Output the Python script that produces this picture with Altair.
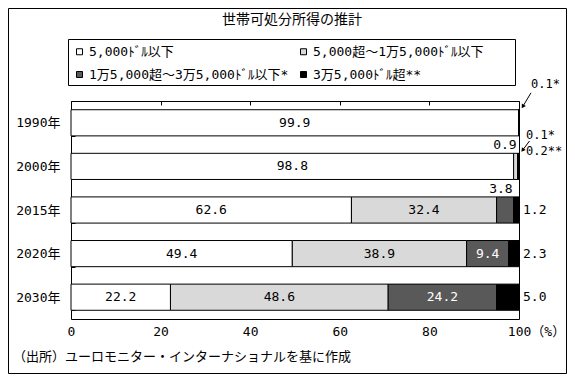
import altair as alt
import pandas as pd

# ---- data -------------------------------------------------------------
years = ["1990年", "2000年", "2015年", "2020年", "2030年"]
categories = [
    "5,000ﾄﾞﾙ以下",
    "5,000超～1万5,000ﾄﾞﾙ以下",
    "1万5,000超～3万5,000ﾄﾞﾙ以下*",
    "3万5,000ﾄﾞﾙ超**",
]
under_5k = [99.9, 98.8, 62.6, 49.4, 22.2]
from_5k_to_15k = [0.0, 0.9, 32.4, 38.9, 48.6]
from_15k_to_35k = [0.1, 0.1, 3.8, 9.4, 24.2]
over_35k = [0.0, 0.2, 1.2, 2.3, 5.0]
x_ticks = [0, 20, 40, 60, 80, 100]
title_text = "世帯可処分所得の推計"
source_text = "（出所）ユーロモニター・インターナショナルを基に作成"
colors = ["#ffffff", "#d9d9d9", "#595959", "#000000"]

series = [under_5k, from_5k_to_15k, from_15k_to_35k, over_35k]


def placement(ci, v):
    if v == 0:
        return "none"
    if ci == 3 and v >= 1:
        return "right"
    if v >= 9:
        return "inside"
    if v < 0.5:
        return "arrow"
    return "above"


rows = []
for yi, yr in enumerate(years):
    start = 0.0
    for ci, cat in enumerate(categories):
        v = series[ci][yi]
        rows.append(dict(
            year=yr, cat=cat, order=ci, value=v,
            start=round(start, 3), end=round(start + v, 3), mid=round(start + v / 2, 3),
            label=f"{v:.1f}",
            note=f"{v:.1f}" + "*" * (ci - 1) if ci >= 2 else f"{v:.1f}",
            place=placement(ci, v),
        ))
        start += v
df = pd.DataFrame(rows)
one = pd.DataFrame({"k": [0]})

# ---- styling ----------------------------------------------------------
FONT = "DejaVu Sans Mono, Noto Sans CJK JP"
CJK = "Noto Sans CJK JP"
W, H = 448, 218
PAD = {"left": 63, "top": 93, "right": 48, "bottom": 55}
FS = 13

base = alt.Chart(df)

y_axis = alt.Axis(orient="left", offset=-4, tickSize=4, tickBand="extent", domain=False,
                  labelPadding=11, labelFont=FONT, labelFontSize=FS, labelColor="black",
                  tickColor="black", grid=False, title=None)
bottom_axis = alt.Axis(orient="bottom", values=x_ticks, ticks=False, tickSize=0, domain=False,
                       grid=False, labelPadding=6, labelFont=FONT, labelFontSize=FS,
                       labelColor="black", labelFlush=False, title=None,
                       labelExpr="datum.value == 100 ? '100（%）' : datum.label",
                       labelOffset={"condition": {"test": "datum.value == 100", "value": 17}, "value": 0})
top_axis = alt.Axis(orient="top", offset=-4, tickSize=4, labels=False, domain=False, grid=False,
                    values=x_ticks, tickColor="black", title=None)

y_main = alt.Y("year:N", title=None,
               scale=alt.Scale(domain=years, paddingInner=0.4, paddingOuter=0.2), axis=y_axis)
y_plain = alt.Y("year:N", title=None)

bars = base.mark_bar(stroke="black", strokeWidth=1).encode(
    x=alt.X("start:Q", title=None, scale=alt.Scale(domain=[0, 100], nice=False), axis=bottom_axis),
    x2="end:Q",
    y=y_main,
    fill=alt.Fill("cat:N", scale=alt.Scale(domain=categories, range=colors),
                  legend=alt.Legend(title=None, orient="none", legendX=-3, legendY=-61, columns=2,
                                    direction="horizontal",
                                    symbolType="square", symbolSize=36, symbolStrokeColor="black",
                                    symbolStrokeWidth=1, labelFont=FONT, labelFontSize=FS,
                                    labelColor="black", labelLimit=400, labelOffset=3,
                                    rowPadding=9, columnPadding=8, padding=5,
                                    gridAlign="all")),
)

legend_box = alt.Chart(one).mark_rect(fill="transparent", stroke="black", strokeWidth=1).encode(
    x=alt.value(-2.5), x2=alt.value(444.5), y=alt.value(-61.5), y2=alt.value(-15.5))

inside = base.transform_filter(alt.datum.place == "inside").mark_text(
    font=FONT, fontSize=FS, baseline="middle"
).encode(
    x=alt.X("mid:Q", title=None, axis=top_axis),
    y=y_plain,
    text="label:N",
    color=alt.condition(alt.datum.order == 2, alt.value("white"), alt.value("black")),
)

right = base.transform_filter(alt.datum.place == "right").mark_text(
    font=FONT, fontSize=FS, baseline="middle", align="left", dx=4, color="black"
).encode(x=alt.X("end:Q", axis=None), y=y_plain, text="label:N")

above = base.transform_filter(alt.datum.place == "above").mark_text(
    font=FONT, fontSize=FS, baseline="middle", align="right", dx=-1, dy=-21, color="black"
).encode(x=alt.X("end:Q", axis=None), y=y_plain, text="label:N")

NFS = 12
arrow_rows = base.transform_filter(alt.datum.place == "arrow")
note_1990 = arrow_rows.transform_filter(alt.datum.year == years[0]).mark_text(
    font=FONT, fontSize=NFS, baseline="middle", align="left", dx=12, dy=-39, color="black"
).encode(x=alt.X("end:Q", axis=None), y=y_plain, text="note:N")
note_2000a = arrow_rows.transform_filter((alt.datum.year == years[1]) & (alt.datum.order == 2)).mark_text(
    font=FONT, fontSize=NFS, baseline="middle", align="left", dx=8, dy=-31, color="black"
).encode(x=alt.X("end:Q", axis=None), y=y_plain, text="note:N")
note_2000b = arrow_rows.transform_filter((alt.datum.year == years[1]) & (alt.datum.order == 3)).mark_text(
    font=FONT, fontSize=NFS, baseline="middle", align="left", dx=7, dy=-15, color="black"
).encode(x=alt.X("end:Q", axis=None), y=y_plain, text="note:N")

arrow1 = alt.Chart(one).mark_rule(color="black", strokeWidth=1, xOffset=12, yOffset=-30,
                                  x2Offset=3.8, y2Offset=-16.3).encode(
    x=alt.X(datum=100, axis=None), x2=alt.X2(datum=100),
    y=alt.Y(datum=years[0]), y2=alt.Y2(datum=years[0]))
head1 = alt.Chart(one).mark_point(shape="triangle-up", filled=True, fill="black", color="black",
                                  opacity=1, size=22, angle=210.7, xOffset=3.8, yOffset=-16.3).encode(
    x=alt.X(datum=100, axis=None), y=alt.Y(datum=years[0]))
arrow2 = alt.Chart(one).mark_rule(color="black", strokeWidth=1, xOffset=10.5, yOffset=-25.4,
                                  x2Offset=3.6, y2Offset=-16.2).encode(
    x=alt.X(datum=100, axis=None), x2=alt.X2(datum=100),
    y=alt.Y(datum=years[1]), y2=alt.Y2(datum=years[1]))
head2 = alt.Chart(one).mark_point(shape="triangle-up", filled=True, fill="black", color="black",
                                  opacity=1, size=22, angle=216.9, xOffset=3.6, yOffset=-16.2).encode(
    x=alt.X(datum=100, axis=None), y=alt.Y(datum=years[1]))

title = alt.Chart(one).mark_text(text=title_text, font=CJK, fontSize=14, color="black",
                                 baseline="middle", align="center").encode(
    x=alt.value(221), y=alt.value(-81))
source = alt.Chart(one).mark_text(text=source_text, font=CJK, fontSize=FS, color="black",
                                  baseline="middle", align="left").encode(
    x=alt.value(-58), y=alt.value(256))
frame = alt.Chart(one).mark_rect(fill="transparent", stroke="black", strokeWidth=1).encode(
    x=alt.value(-62.5), x2=alt.value(W + PAD["right"] - 0.5),
    y=alt.value(-92.5), y2=alt.value(H + PAD["bottom"] - 0.5))

chart = alt.layer(
    frame, legend_box, bars, inside, right, above, note_1990, note_2000a, note_2000b,
    arrow1, head1, arrow2, head2, title, source,
).resolve_axis(x="independent").properties(
    width=W, height=H, padding=PAD, autosize=alt.AutoSizeParams(type="none"),
    background="white",
).configure_view(stroke="black", strokeWidth=1)

chart.save("out.html", embed_options={"renderer": "svg", "actions": False})
